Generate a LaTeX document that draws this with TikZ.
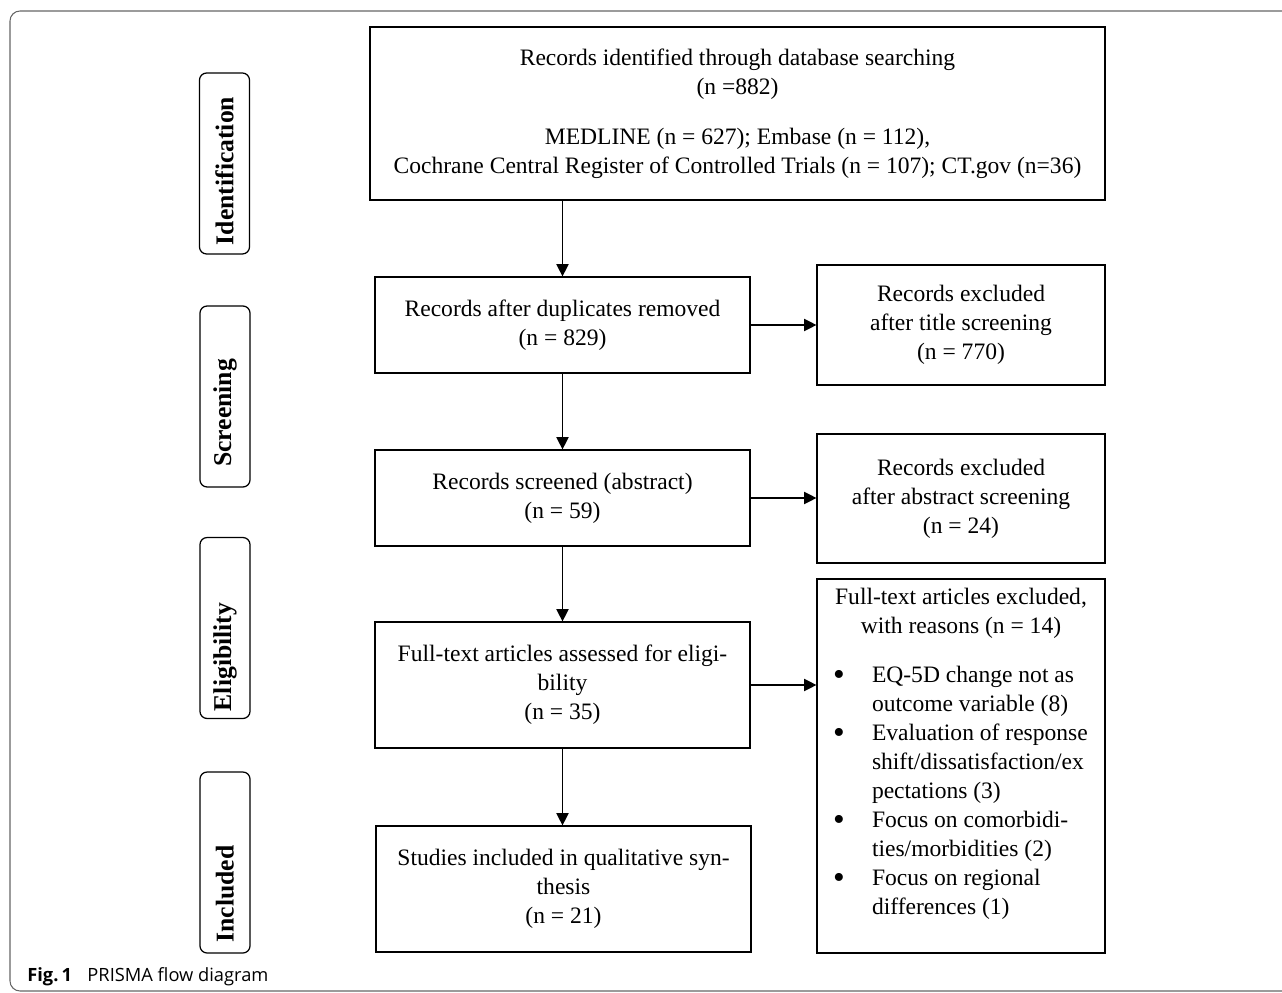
\documentclass[tikz,border=0pt]{standalone}
\usepackage{fontspec}
\setmainfont{Liberation Serif}
\newfontfamily\capfont{Open Sans}
\usetikzlibrary{arrows.meta,positioning}
\newcommand{\reason}[1]{\par\hangindent=1.1cm\hangafter=1\noindent\hspace*{0.32cm}%
  \makebox[0.78cm][l]{\raisebox{-1.5pt}{\fontsize{19}{16}\selectfont\textbullet}}#1}

\begin{document}
\begin{tikzpicture}[x=0.02cm,y=-0.02cm,
  every node/.style={font=\fontsize{13.4}{16.5}\selectfont},
  flowbox/.style={draw,line width=0.7pt,align=center,inner sep=2pt},
  phase/.style={draw,line width=0.7pt,rounded corners=4pt,rotate=90,
    minimum width=3.62cm,minimum height=1cm,inner sep=0pt,
    font=\fontsize{14.6}{16}\selectfont\bfseries},
  flow/.style={line width=0.7pt,-{Triangle[length=7pt,width=7pt]}}]
\useasboundingbox (0,0) rectangle (1282,993);
% frame and caption
\draw[black!60,line width=0.6pt,rounded corners=0.2cm] (10,11) rectangle (1300,991);
\node[anchor=base west,inner sep=0pt,font=\capfont\fontsize{10.4}{12}\selectfont] (cap) at (27,981)
  {\textbf{Fig.\,1}\hspace{0.85em}PRISMA flow diagram};
% phases
\node[phase] (ident) at (224.5,163.5) {Identification\hspace*{0.3cm}};
\node[phase] (screen) at (225,396.5) {Screening\hspace*{0.66cm}};
\node[phase] (elig) at (225,628) {Eligibility\hspace*{1.16cm}};
\node[phase] (incl) at (225,862.5) {Included\hspace*{1.26cm}};
% main column
\node[flowbox,minimum width=14.7cm,minimum height=3.46cm] (found) at (737.5,113.5)
  {Records identified through database searching\\(n =882)\\[0.42cm]
   MEDLINE (n = 627); Embase (n = 112),\\
   Cochrane Central Register of Controlled Trials (n = 107); CT.gov (n=36)};
\node[flowbox,minimum width=7.5cm,minimum height=1.92cm] (dup) at (562.5,325)
  {Records after duplicates removed\\(n = 829)};
\node[flowbox,minimum width=7.5cm,minimum height=1.92cm] (abs) at (562.5,498)
  {Records screened (abstract)\\(n = 59)};
\node[flowbox,minimum width=7.5cm,minimum height=2.52cm] (full) at (562.5,685)
  {Full-text articles assessed for eligi-\\bility\\(n = 35)};
\node[flowbox,minimum width=7.5cm,minimum height=2.52cm] (synth) at (563.5,889)
  {Studies included in qualitative syn-\\thesis\\(n = 21)};
% exclusions
\node[flowbox,minimum width=5.76cm,minimum height=2.4cm] (extitle) at (961,325)
  {Records excluded\\after title screening\\(n = 770)};
\node[flowbox,minimum width=5.76cm,minimum height=2.58cm] (exabs) at (961,498.5)
  {Records excluded\\after abstract screening\\(n = 24)};
\node[draw,line width=0.7pt,inner sep=0pt,minimum width=5.76cm,minimum height=7.48cm] (exfull) at (961,766)
  {\parbox{5.76cm}{{\centering Full-text articles excluded,\\with reasons (n = 14)\par}
   \vspace{0.4cm}\raggedright
   \reason{EQ-5D change not as\newline outcome variable (8)}
   \reason{Evaluation of response\newline shift/dissatisfaction/ex\newline pectations (3)}
   \reason{Focus on comorbidi-\newline ties/morbidities (2)}
   \reason{Focus on regional\newline differences (1)}
   \par\vspace{0.48cm}\hrule height 0pt}};
% arrows
\draw[flow] (found.south -| dup.north) -- (dup.north);
\draw[flow] (dup) -- (abs);
\draw[flow] (abs) -- (full);
\draw[flow] (full.south) -- (full.south |- synth.north);
\draw[flow] (dup) -- (extitle);
\draw[flow] (abs.east) -- (abs.east -| exabs.west);
\draw[flow] (full.east) -- (full.east -| exfull.west);
\end{tikzpicture}
\end{document}
